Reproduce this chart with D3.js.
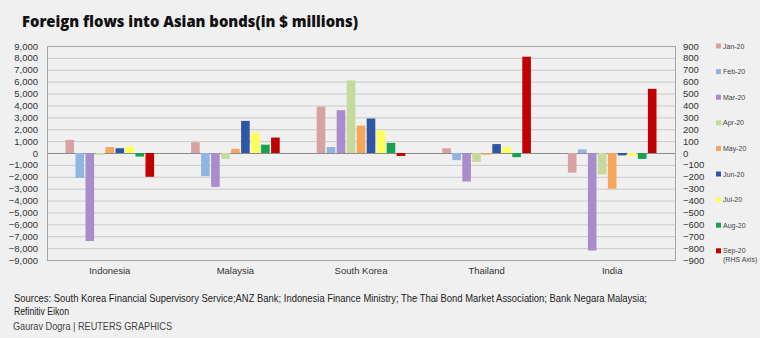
<!DOCTYPE html>
<html>
<head>
<meta charset="utf-8">
<script src="https://cdn.jsdelivr.net/npm/d3@7"></script>
<style>
  html, body { margin: 0; padding: 0; background: #f0f0f0; }
  svg { display: block; }
  .tick text { font-family: "Liberation Sans", Arial, sans-serif; }
</style>
</head>
<body>
<svg id="chart" width="760" height="338"></svg>
<script>
// Countries along the x axis
const countries = ["Indonesia", "Malaysia", "South Korea", "Thailand", "India"];

// Monthly series (Jan–Aug on left axis, Sep on right axis), $ millions
const months = ["Jan-20", "Feb-20", "Mar-20", "Apr-20", "May-20", "Jun-20", "Jul-20", "Aug-20", "Sep-20"];
const jan20 = [1100, 900, 3900, 400, -1650];
const feb20 = [-2100, -1950, 500, -600, 300];
const mar20 = [-7400, -2850, 3600, -2400, -8200];
const apr20 = [-150, -500, 6100, -750, -1800];
const may20 = [500, 350, 2300, -150, -3000];
const jun20 = [400, 2700, 2900, 750, -200];
const jul20 = [550, 1700, 1900, 500, -250];
const aug20 = [-300, 700, 850, -350, -500];
const sep20 = [-200, 130, -25, 810, 540]; // RHS axis

const seriesValues = [jan20, feb20, mar20, apr20, may20, jun20, jul20, aug20, sep20];
const seriesColors = ["#d7a3a2", "#8fb5e2", "#a98ccb", "#c5db9c", "#f6a65c", "#2f55a5", "#ffff5c", "#17a150", "#c00000"];
const rhsSeries = 8;

// Axis tick values
const leftTicks = d3.range(-9000, 9001, 1000);
const rightTicks = d3.range(-900, 901, 100);

const svg = d3.select("#chart");
const plot = { left: 47, right: 675, top: 46, bottom: 260 };

const x0 = d3.scaleBand().domain(countries).range([plot.left, plot.right]).paddingInner(0).paddingOuter(0);
const x1 = d3.scaleBand().domain(d3.range(months.length))
  .range([0, x0.bandwidth()]).paddingInner(0.14).paddingOuter(1.85);
const yL = d3.scaleLinear().domain([-9000, 9000]).range([plot.bottom, plot.top]);
const yR = d3.scaleLinear().domain([-900, 900]).range([plot.bottom, plot.top]);

// Title
svg.append("text")
  .attr("x", 22).attr("y", 27)
  .attr("font-family", "'Open Sans', 'Noto Sans', sans-serif")
  .attr("font-weight", 800).attr("font-size", 16.5)
  .attr("textLength", 336).attr("lengthAdjust", "spacingAndGlyphs")
  .attr("fill", "#111")
  .text("Foreign flows into Asian bonds(in $ millions)");

// Horizontal gridlines
svg.append("g")
  .selectAll("line").data(leftTicks).join("line")
  .attr("x1", plot.left).attr("x2", plot.right)
  .attr("y1", d => yL(d) + 0.5).attr("y2", d => yL(d) + 0.5)
  .attr("stroke", d => d === 0 ? "#8c8c8c" : "#c9c9c9")
  .attr("stroke-width", 1);

// Plot frame
svg.append("rect")
  .attr("x", plot.left + 0.5).attr("y", plot.top + 0.5)
  .attr("width", plot.right - plot.left).attr("height", plot.bottom - plot.top)
  .attr("fill", "none").attr("stroke", "#a6a6a6");

// Bars
const groups = svg.append("g").selectAll("g").data(countries).join("g")
  .attr("transform", d => `translate(${x0(d)},0)`);

groups.selectAll("rect")
  .data((c, ci) => seriesValues.map((vals, si) => ({ si, v: vals[ci] })))
  .join("rect")
  .attr("x", d => x1(d.si))
  .attr("width", x1.bandwidth())
  .attr("y", d => {
    const y = d.si === rhsSeries ? yR : yL;
    return Math.min(y(d.v), y(0));
  })
  .attr("height", d => {
    const y = d.si === rhsSeries ? yR : yL;
    return Math.abs(y(d.v) - y(0));
  })
  .attr("fill", d => seriesColors[d.si]);

// Left axis
const axisL = svg.append("g")
  .attr("transform", `translate(${plot.left},0)`)
  .call(d3.axisLeft(yL).tickValues(leftTicks).tickSize(0).tickPadding(9)
    .tickFormat(d3.format(",")));
axisL.select(".domain").remove();
axisL.selectAll("text").attr("font-size", 9.5).attr("fill", "#333");

// Right axis
const axisR = svg.append("g")
  .attr("transform", `translate(${plot.right},0)`)
  .call(d3.axisRight(yR).tickValues(rightTicks).tickSize(0).tickPadding(8)
    .tickFormat(d3.format("d")));
axisR.select(".domain").remove();
axisR.selectAll("text").attr("font-size", 9.5).attr("fill", "#333");

// Category axis labels
const axisB = svg.append("g")
  .attr("transform", `translate(0,${plot.bottom})`)
  .call(d3.axisBottom(x0).tickSize(0).tickPadding(7));
axisB.select(".domain").remove();
axisB.selectAll("text").attr("font-size", 9.5).attr("fill", "#333");

// Legend
const legend = svg.append("g").selectAll("g").data(months).join("g")
  .attr("transform", (d, i) => `translate(716,${46 + i * 25.6})`);
legend.append("rect")
  .attr("x", 0).attr("y", -2.5).attr("width", 5).attr("height", 5)
  .attr("fill", (d, i) => seriesColors[i]);
legend.append("text")
  .attr("x", 7).attr("y", 2.5)
  .attr("font-family", "'Liberation Sans', sans-serif")
  .attr("font-size", 7).attr("fill", "#444")
  .text(d => d);
legend.filter((d, i) => i === rhsSeries).append("text")
  .attr("x", 7).attr("y", 11)
  .attr("font-family", "'Liberation Sans', sans-serif")
  .attr("font-size", 7).attr("fill", "#444")
  .text("(RHS Axis)");

// Footer
const foot = svg.append("g")
  .attr("font-family", "'Liberation Sans', sans-serif")
  .attr("fill", "#222")
  .attr("font-size", 11);
foot.append("text").attr("x", 14).attr("y", 302)
  .attr("textLength", 633).attr("lengthAdjust", "spacingAndGlyphs")
  .text("Sources: South Korea Financial Supervisory Service;ANZ Bank; Indonesia Finance Ministry; The Thai Bond Market Association; Bank Negara Malaysia;");
foot.append("text").attr("x", 14).attr("y", 315)
  .attr("textLength", 55).attr("lengthAdjust", "spacingAndGlyphs")
  .text("Refinitiv Eikon");
foot.append("text").attr("x", 13).attr("y", 330)
  .attr("textLength", 159).attr("lengthAdjust", "spacingAndGlyphs")
  .attr("fill", "#444")
  .text("Gaurav Dogra | REUTERS GRAPHICS");
</script>
</body>
</html>
